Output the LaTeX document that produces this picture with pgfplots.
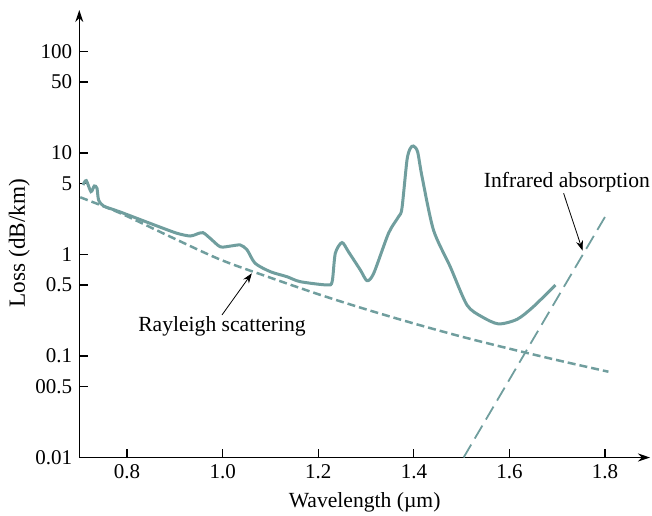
\documentclass[border=0pt]{standalone}
\usepackage{fontspec}
\setmainfont{Liberation Serif}
\usepackage{pgfplots}
\pgfplotsset{compat=1.18}
\usetikzlibrary{arrows.meta}
\definecolor{fib}{RGB}{112,158,158}

\begin{document}
\begin{tikzpicture}
\begin{axis}[
  scale only axis, width=285.35pt, height=223.75pt,
  xmin=0.7, xmax=1.894, ymin=0.01, ymax=256,
  ymode=log,
  axis lines=left,
  axis line style={line width=0.6pt, -{Stealth[length=6pt,width=4pt]}},
  tick align=inside, major tick length=4.5pt,
  tick style={black, line width=0.6pt},
  yminorticks=false,
  xtick={0.8,1.0,1.2,1.4,1.6,1.8},
  xticklabels={0.8,1.0,1.2,1.4,1.6,1.8},
  ytick={0.01,0.05,0.1,0.5,1,5,10,50,100},
  yticklabels={0.01,00.5,0.1,0.5,1,5,10,50,100},
  /pgf/number format/assume math mode=true,
  tick label style={font=\fontsize{10.5}{12}\selectfont},
  label style={font=\fontsize{10.8}{13}\selectfont},
  xlabel={Wavelength (µm)},
  ylabel={Loss (dB/km)},
  every axis y label/.style={at={(ticklabel cs:0.479,-4pt)}, rotate=90, anchor=near ticklabel, font=\fontsize{11.6}{13}\selectfont},
  clip=false,
]
\coordinate (O) at (rel axis cs:0,0);
\coordinate (T) at (rel axis cs:1,1);

% fiber loss
\addplot[fib, line width=1.5pt, smooth, tension=0.45] coordinates {
(0.7077,4.84) (0.7146,5.34) (0.7244,4.16) (0.7314,4.73) (0.737,4.49)
(0.7404,3.44) (0.751,3.0) (0.7858,2.62) (0.855,1.97) (0.904,1.62)
(0.932,1.52) (0.946,1.59) (0.9588,1.64) (0.974,1.44) (0.995,1.19)
(1.016,1.21) (1.037,1.24) (1.051,1.11) (1.068,0.818) (1.1,0.676)
(1.1345,0.604) (1.162,0.540) (1.218,0.501) (1.229,0.54) (1.2356,1.028)
(1.2496,1.31) (1.263,1.066) (1.288,0.703) (1.302,0.552) (1.316,0.653)
(1.347,1.62) (1.368,2.36) (1.375,2.85) (1.3856,8.53) (1.3925,11.1)
(1.399,11.7) (1.4077,10.3) (1.417,5.85) (1.441,1.74) (1.476,0.758)
(1.511,0.318) (1.542,0.244) (1.577,0.207) (1.616,0.23) (1.65,0.306)
(1.696,0.50)
};

% Rayleigh scattering
\addplot[fib, line width=1.25pt, dash pattern=on 4pt off 2pt, smooth] coordinates {
(0.702,3.66) (0.786,2.55) (0.89,1.50) (0.995,0.89) (1.1,0.59)
(1.2,0.406) (1.3,0.288) (1.4,0.209) (1.5,0.155) (1.6,0.118)
(1.7,0.091) (1.807,0.070)
};

% Infrared absorption
\addplot[fib, line width=0.9pt, dash pattern=on 7.5pt off 3.5pt] coordinates {
(1.504,0.01) (1.805,2.58)
};

\node[font=\fontsize{10.8}{13}\selectfont] at (axis cs:0.9985,0.1946) {Rayleigh scattering};
\draw[line width=0.4pt, -{Stealth[length=5pt,width=3.5pt]}] (axis cs:0.9985,0.2535) -- (axis cs:1.061,0.653);
\node[font=\fontsize{10.8}{13}\selectfont] at (axis cs:1.7203,5.10) {Infrared absorption};
\draw[line width=0.4pt, -{Stealth[length=5pt,width=3.5pt]}] (axis cs:1.7132,4.01) -- (axis cs:1.753,1.09);
\end{axis}
\pgfresetboundingbox
\path ([shift={(-39.65pt,-28.75pt)}]O) rectangle ([shift={(1pt,5pt)}]T);
\end{tikzpicture}
\end{document}
